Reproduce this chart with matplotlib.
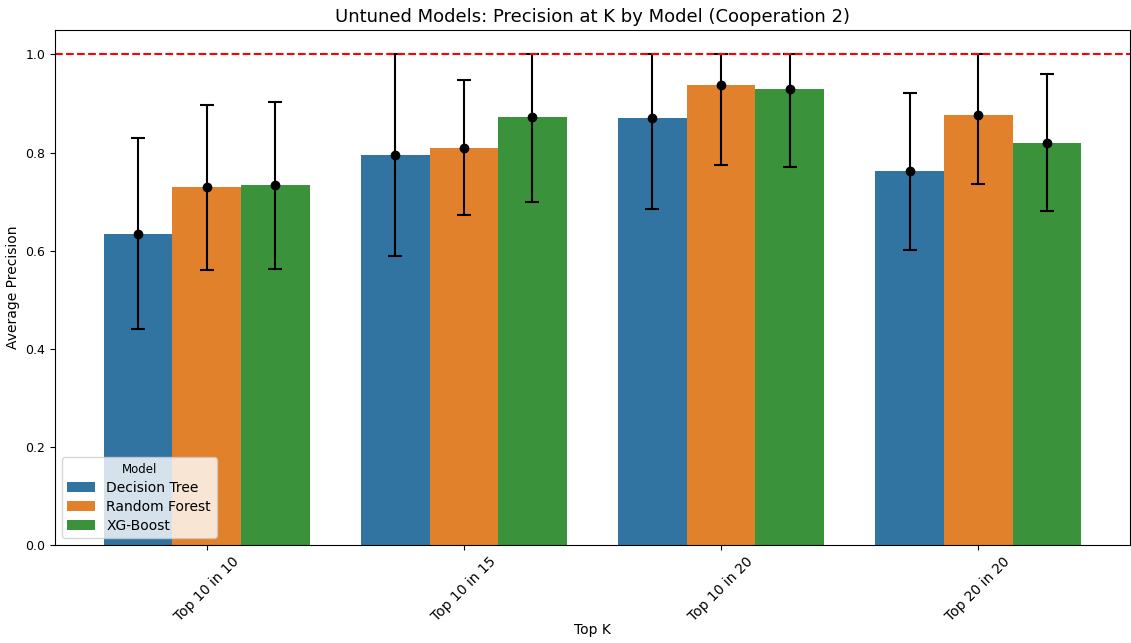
import matplotlib.pyplot as plt
import numpy as np

plt.rcParams['figure.dpi'] = 100

top_k = ['Top 10 in 10', 'Top 10 in 15', 'Top 10 in 20', 'Top 20 in 20']
models = ['Decision Tree', 'Random Forest', 'XG-Boost']
colors = ['#3274a1', '#e1812c', '#3a923a']

# mean precision per model (rows) and top-k setting (cols)
dt_mean = [0.635, 0.795, 0.871, 0.762]
rf_mean = [0.730, 0.810, 0.937, 0.876]
xgb_mean = [0.733, 0.873, 0.929, 0.820]

# error bar limits
dt_low = [0.440, 0.590, 0.685, 0.601]
dt_high = [0.830, 1.000, 1.000, 0.921]
rf_low = [0.560, 0.672, 0.775, 0.735]
rf_high = [0.897, 0.949, 1.000, 1.000]
xgb_low = [0.562, 0.700, 0.770, 0.680]
xgb_high = [0.903, 1.000, 1.000, 0.961]

means = [dt_mean, rf_mean, xgb_mean]
lows = [dt_low, rf_low, xgb_low]
highs = [dt_high, rf_high, xgb_high]

fig = plt.figure(figsize=(11.31, 6.43))
ax = fig.add_axes([0.0486, 0.1524, 0.9505, 0.801])

x = np.arange(len(top_k))
w = 0.8 / len(models)
for i, m in enumerate(models):
    pos = x - 0.4 + w / 2 + i * w
    mean = np.array(means[i])
    ax.bar(pos, mean, width=w, color=colors[i], label=m)
    yerr = [mean - np.array(lows[i]), np.array(highs[i]) - mean]
    ax.errorbar(pos, mean, yerr=yerr, fmt='o', color='black', ecolor='black',
                capsize=5, markersize=6, elinewidth=1.5, capthick=1.5)

ax.axhline(1.0, color='red', linestyle='--', linewidth=1.5)

ax.set_xticks(x)
ax.set_xticklabels(top_k, rotation=45, fontsize=10)
ax.tick_params(axis='y', labelsize=9)
ax.set_xlim(-0.59, 3.59)
ax.set_ylim(0, 1.05)
ax.set_xlabel('Top K', fontsize=10)
ax.xaxis.set_label_coords(0.5, -0.152)
ax.set_ylabel('Average Precision', fontsize=10)
ax.set_title('Untuned Models: Precision at K by Model (Cooperation 2)', fontsize=13)
ax.legend(title='Model', loc='lower left', fontsize=10, title_fontsize=8.5,
          labelspacing=0.35)

fig.savefig('out.png')
